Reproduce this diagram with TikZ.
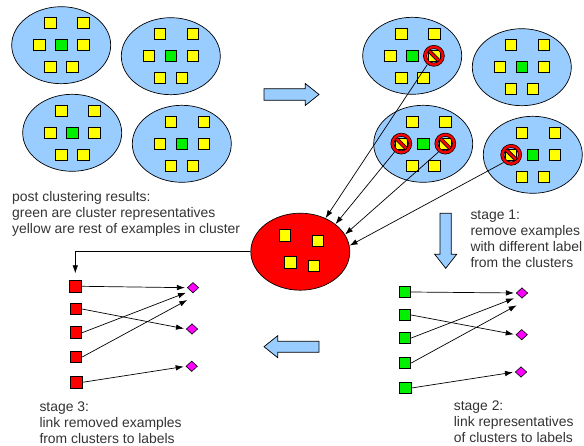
\documentclass[tikz,border=0pt]{standalone}
\usepackage{fontspec}
\setmainfont{Liberation Sans}
\usetikzlibrary{shapes.geometric,arrows.meta}
\definecolor{clblue}{HTML}{99CCFF}
\definecolor{cltxt}{HTML}{333333}
\definecolor{clyellow}{HTML}{FFFF00}
\definecolor{clgreen}{HTML}{00F000}
\definecolor{clred}{HTML}{FF0000}
\definecolor{clmag}{HTML}{FF00FF}
\tikzset{
  blob/.style={ellipse,draw=black,line width=0.7pt,minimum width=99pt,minimum height=77pt,inner sep=0pt},
  sq/.style={rectangle,draw=black,line width=0.9pt,minimum size=11.5pt,inner sep=0pt},
  ysq/.style={sq,fill=clyellow},
  gsq/.style={sq,fill=clgreen},
  rsq/.style={sq,fill=clred},
  dia/.style={diamond,draw=black,line width=0.6pt,fill=clmag,minimum width=11.5pt,minimum height=10.5pt,inner sep=0pt},
  lnk/.style={draw=black,line width=0.7pt,-{Latex[length=8pt,width=5.5pt]}},
  block/.style={draw=black,line width=0.7pt,fill=clblue},
  ringo/.style={circle,minimum size=21.4pt,inner sep=0pt},
  slash/.style={rectangle,draw=black,line width=0.6pt,fill=clred,rotate=-45,minimum width=16pt,minimum height=3.2pt,inner sep=0pt},
  txt/.style={text=cltxt,align=left,anchor=north west,inner sep=0pt,font=\fontsize{13.9pt}{15.9pt}\selectfont},
  cluster/.pic={
    \node[blob,fill=clblue] (-e) at (0,0) {};
    \node[ysq] (-a) at (-11,-22) {};
    \node[ysq] (-b) at (22,-22) {};
    \node[ysq] (-c) at (-22,0) {};
    \node[gsq] (-d) at (0,0) {};
    \node[ysq] (-f) at (22,0) {};
    \node[ysq] (-g) at (-11,22) {};
    \node[ysq] (-h) at (11,22) {};
  }
}
\newcommand{\nomark}[2]{%
  \node[ringo] (#1) at (#2) {};
  \node[slash] (#1s) at (#1) {};
  \draw[draw=black,line width=0.6pt,fill=clred,even odd rule] (#1) circle[radius=10.5] (#1) circle[radius=7.2];
}
\begin{document}
\begin{tikzpicture}[x=1pt,y=-1pt]
\useasboundingbox (0,0) rectangle (584,446);
% left clusters
\pic (p1) at (61.2,45.2) {cluster};
\pic (p2) at (170.8,56.2) {cluster};
\pic (p3) at (72.2,132.8) {cluster};
\pic (p4) at (181.8,143.8) {cluster};
% right clusters
\pic (q1) at (412.2,55.8) {cluster};
\pic (q2) at (521.8,67.2) {cluster};
\pic (q3) at (423.2,143.8) {cluster};
\pic (q4) at (532.8,154.8) {cluster};
\nomark{n1}{433.9,55.8}
\nomark{n2}{401.3,143.6}
\nomark{n3}{445.3,143.6}
\nomark{n4}{511.2,154.8}
% red cluster
\node[blob,fill=clred] (red) at (300.3,251.7) {};
\node[ysq] (r1) at (285,235.7) {};
\node[ysq] (r2) at (317.7,241) {};
\node[ysq] (r3) at (290.3,262.3) {};
\node[ysq] (r4) at (314,266) {};
\draw[lnk] (n1.233) -- (red.53.6);
\draw[lnk] (n2.231) -- (red.38.5);
\draw[lnk] (n3.231) -- (red.21.2);
\draw[lnk] (n4.225) -- (red.7.7);
% block arrows
\draw[block] (264,88.7) -- (305.3,88.7) -- (305.3,83.5) -- (319,94.5) -- (305.3,105.5) -- (305.3,100.3) -- (264,100.3) -- cycle;
\draw[block] (440,213.3) -- (451.3,213.3) -- (451.3,254.3) -- (456.7,254.3) -- (445.7,268.3) -- (434.7,254.3) -- (440,254.3) -- cycle;
\draw[block] (319,341.3) -- (277.7,341.3) -- (277.7,335.7) -- (264,346.7) -- (277.7,357.7) -- (277.7,352.3) -- (319,352.3) -- cycle;
% right bipartite
\node[gsq] (s1) at (404.7,292) {};
\node[gsq] (s2) at (405,315) {};
\node[gsq] (s3) at (405,338) {};
\node[gsq] (s4) at (405,363) {};
\node[gsq] (s5) at (405.3,388) {};
\node[dia] (d1) at (522,293) {};
\node[dia] (d2) at (521.7,334.7) {};
\node[dia] (d3) at (521,372) {};
\coordinate (c3) at (514,298.3);
\coordinate (c4) at (516.7,305.3);
\draw[lnk,shorten >=2pt] (s1.east) -- (d1.west);
\draw[lnk,shorten >=2pt] (s2.east) -- (d2.west);
\draw[lnk] (s3.east) -- (c3);
\draw[lnk] (s4.east) -- (c4);
\draw[lnk,shorten >=2pt] (s5.east) -- (d3.west);
% left bipartite
\node[rsq] (u1) at (75.3,286.3) {};
\node[rsq] (u2) at (75.7,309) {};
\node[rsq] (u3) at (76,332.7) {};
\node[rsq] (u4) at (76,357) {};
\node[rsq] (u5) at (76.3,382.3) {};
\node[dia] (v1) at (193,287.7) {};
\node[dia] (v2) at (192,329) {};
\node[dia] (v3) at (191.7,366.3) {};
\coordinate (w3) at (186,292.7);
\coordinate (w4) at (187.3,300);
\coordinate (w0) at (75.3,273.3);
\draw[lnk,shorten >=2pt] (u1.east) -- (v1.west);
\draw[lnk,shorten >=2pt] (u2.east) -- (v2.west);
\draw[lnk] (u3.east) -- (w3);
\draw[lnk] (u4.east) -- (w4);
\draw[lnk,shorten >=2pt] (u5.east) -- (v3.west);
\draw[lnk] (red.west) -| (w0);
% texts
\node[txt] (t0) at (12,191) {post clustering results:\\green are cluster representatives\\yellow are rest of examples in cluster};
\node[txt] (t1) at (470.3,210) {stage 1:\\remove examples\\with different label\\from the clusters};
\node[txt] (t2) at (453.7,401) {stage 2:\\link representatives\\of clusters to labels};
\node[txt] (t3) at (39.3,402) {stage 3:\\link removed examples\\from clusters to labels};
\end{tikzpicture}
\end{document}
